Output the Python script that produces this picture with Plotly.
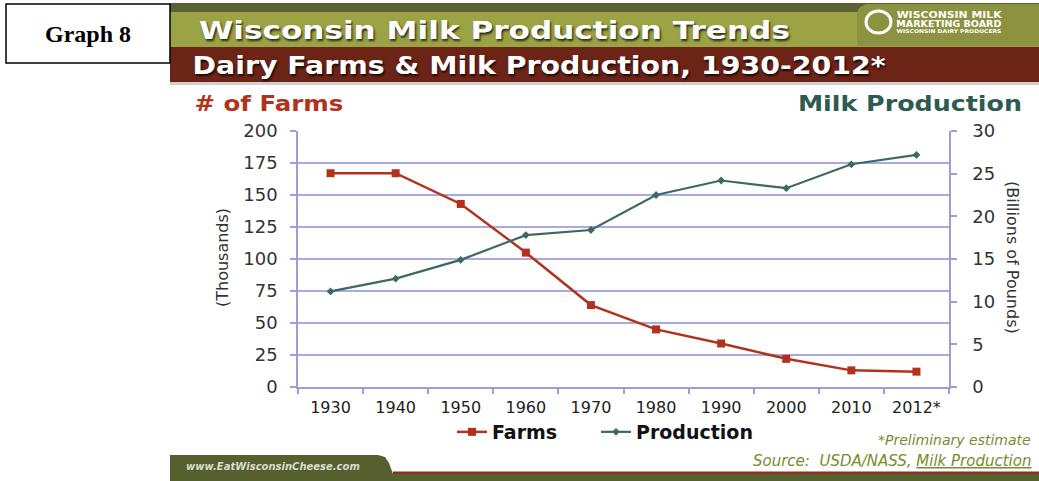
import json
import plotly.graph_objects as go

# ---------------- data ----------------
years = ["1930", "1940", "1950", "1960", "1970", "1980", "1990", "2000", "2010", "2012*"]
farms_thousands = [167, 167, 143, 105, 64, 45, 34, 22, 13, 12]
production_billion_lbs = [11.2, 12.7, 14.9, 17.8, 18.4, 22.5, 24.2, 23.3, 26.1, 27.2]
left_ticks = [0, 25, 50, 75, 100, 125, 150, 175, 200]
right_ticks = [0, 5, 10, 15, 20, 25, 30]

# ---------------- geometry helpers (pixel -> paper) ----------------
W, H = 1039, 481
L, R, T, B = 298, 949, 131, 387


def px(x):
    return (x - L) / (R - L)


def py(y):
    return (B - y) / (B - T)


FARM_C = "#b3321b"
PROD_C = "#3d6a5e"
GRID_C = "#a9a9e3"
AXIS_C = "#9c9cd8"
FONT = "DejaVu Sans"

fig = go.Figure()
fig.add_trace(go.Scatter(
    x=years, y=farms_thousands, name="Farms", mode="lines+markers",
    line=dict(color=FARM_C, width=2.5),
    marker=dict(symbol="square", size=8, color=FARM_C),
    yaxis="y", legend="legend", showlegend=True,
))
fig.add_trace(go.Scatter(
    x=years, y=production_billion_lbs, name="Production", mode="lines+markers",
    line=dict(color=PROD_C, width=2.2),
    marker=dict(symbol="diamond", size=6, color=PROD_C),
    yaxis="y2", legend="legend2", showlegend=True,
))

shapes = []


def rect(x0, y0, x1, y1, fill, line=None, lw=0):
    shapes.append(dict(type="rect", xref="paper", yref="paper",
                       x0=px(x0), x1=px(x1), y0=py(y1), y1=py(y0),
                       fillcolor=fill, line=dict(color=line or fill, width=lw),
                       layer="above"))


def path(points, fill):
    d = "M " + " L ".join(f"{px(x):.5f},{py(y):.5f}" for x, y in points) + " Z"
    shapes.append(dict(type="path", xref="paper", yref="paper", path=d,
                       fillcolor=fill, line=dict(width=0), layer="above"))


# header bands
rect(170, 3, W, 12, "#5a6232")
rect(170, 12, W, 47, "#9ca344")
path([(857, 46), (857, 12), (860, 7), (867, 4), (W, 4), (W, 46)], "#8c9340")
rect(170, 47, W, 82, "#6c2417")
rect(170, 82, W, 85, "#d0d0d0")
# Graph 8 box
rect(6, 4, 170, 63, "white", line="black", lw=1.5)
# footer
path([(170, 481), (170, 455), (378, 455), (385, 457), (389, 463), (393, 474), (W, 474), (W, 481)], "#565f2e")
rect(393, 471.5, W, 474, "#8e2f22")
# logo ring
shapes.append(dict(type="circle", xref="paper", yref="paper",
                   x0=px(866), x1=px(891), y0=py(33), y1=py(11),
                   line=dict(color="white", width=3), fillcolor="rgba(0,0,0,0)", layer="above"))

annotations = []
stretch = {}  # text -> target pixel length (reference text is horizontally stretched)


def text(t, x, y, size, color, xanchor="left", weight="normal", style="normal",
         family=FONT, angle=0, shadow=None, length=None):
    f = dict(family=family, size=size, color=color, weight=weight, style=style)
    if shadow:
        f["shadow"] = shadow
    annotations.append(dict(text=t, x=px(x), y=py(y), xref="paper", yref="paper",
                            xanchor=xanchor, yanchor="middle", showarrow=False,
                            textangle=angle, font=f))
    if length:
        stretch[t] = length


text("Graph 8", 88, 34, 24, "black", xanchor="center", weight="bold", family="Liberation Serif")
text("Wisconsin Milk Production Trends", 494.5, 30, 25, "white", xanchor="center", weight="bold",
     shadow="1px 2px 2px rgba(0,0,0,0.75)", length=591)
text("Dairy Farms & Milk Production, 1930-2012*", 538.5, 66, 24, "white", xanchor="center",
     weight="bold", shadow="1px 2px 2px rgba(0,0,0,0.75)", length=693)
text("WISCONSIN MILK", 949.5, 15, 8.5, "white", xanchor="center", weight="bold", length=105)
text("MARKETING BOARD", 949.5, 23.5, 8.5, "white", xanchor="center", weight="bold", length=105)
text("WISCONSIN DAIRY PRODUCERS", 949.5, 31, 5, "white", xanchor="center", weight="bold", length=105)
text("# of Farms", 268.5, 104, 21, FARM_C, xanchor="center", weight="bold", length=149)
text("Milk Production", 910, 104, 21, "#2e5b4f", xanchor="center", weight="bold", length=224)
text("(Thousands)", 222, 258, 16, "#333333", xanchor="center", angle=-90)
text("(Billions of Pounds)", 1013, 257, 16, "#333333", xanchor="center", angle=90)
text("*Preliminary estimate", 1033, 440, 14, "#7a8b2c", xanchor="right", style="italic")
text("Source:  USDA/NASS, <u>Milk Production</u>", 1033, 461, 15, "#7a8b2c",
     xanchor="right", style="italic")
text("www.EatWisconsinCheese.com", 184, 466, 10, "#d9dccb", weight="bold", style="italic")

legend_common = dict(orientation="h", y=py(432), xanchor="left", yanchor="middle",
                     font=dict(family=FONT, size=19, color="#111111", weight="bold"),
                     bgcolor="rgba(0,0,0,0)", itemwidth=30, visible=True)

fig.update_layout(
    width=W, height=H, autosize=False, showlegend=True,
    margin=dict(l=L, r=W - R, t=T, b=H - B, pad=0),
    paper_bgcolor="white", plot_bgcolor="white",
    font=dict(family=FONT, color="#222222"),
    xaxis=dict(type="category", categoryorder="array", categoryarray=years,
               range=[-0.5, len(years) - 0.5], showgrid=False, zeroline=False,
               showline=True, linecolor=AXIS_C, linewidth=1.5,
               ticks="outside", tickson="boundaries", ticklen=5, tickcolor=AXIS_C, tickwidth=1.5,
               ticklabelstandoff=5,
               tickfont=dict(family=FONT, size=16, color="#222222"), fixedrange=True),
    yaxis=dict(range=[0, 200], tickvals=left_ticks, showgrid=True, gridcolor=GRID_C, gridwidth=1.5,
               zeroline=False, showline=True, linecolor=AXIS_C, linewidth=1.5,
               ticks="outside", ticklen=6, tickcolor=AXIS_C, tickwidth=1.5,
               ticklabelstandoff=9,
               tickfont=dict(family=FONT, size=18, color="#333333"), fixedrange=True),
    yaxis2=dict(range=[0, 30], tickvals=right_ticks, overlaying="y", side="right",
                showgrid=False, zeroline=False, showline=True, linecolor=AXIS_C, linewidth=1.5,
                ticks="outside", ticklen=6, tickcolor=AXIS_C, tickwidth=1.5,
                ticklabelstandoff=12,
                tickfont=dict(family=FONT, size=18, color="#333333"), fixedrange=True),
    legend=dict(x=px(452), **legend_common),
    legend2=dict(x=px(596), **legend_common),
    shapes=shapes,
    annotations=annotations,
)

js = (
    "document.body.style.margin='0';document.body.style.overflow='hidden';"
    "var S=" + json.dumps(stretch) + ";"
    "document.getElementById('{plot_id}').querySelectorAll('text.annotation-text').forEach(function(t){"
    "var k=t.textContent;if(S[k]){t.setAttribute('textLength',S[k]);"
    "t.setAttribute('lengthAdjust','spacingAndGlyphs');}});"
)

fig.write_html("out.html", config={"displayModeBar": False}, post_script=js)
